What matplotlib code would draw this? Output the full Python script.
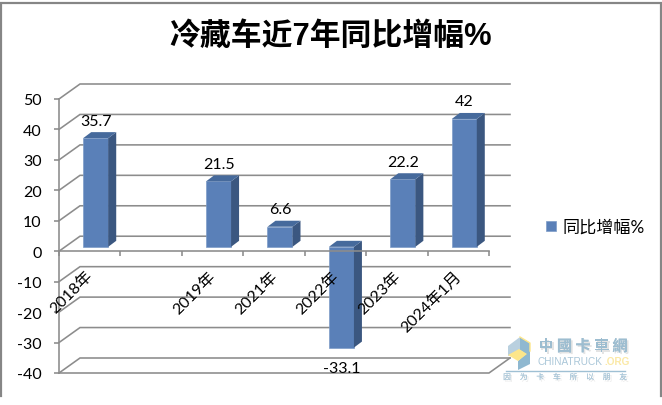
"""Cold-chain truck yearly growth, faux-3D column chart."""

from __future__ import annotations

import numpy as np
import matplotlib

matplotlib.use("Agg")
import matplotlib.pyplot as plt
import matplotlib.patheffects as pe
from matplotlib.patches import Polygon


CATEGORIES = ["2018年", "", "2019年", "2021年", "2022年", "2023年", "2024年1月"]
VALUES = [35.7, np.nan, 21.5, 6.6, -33.1, 22.2, 42]
VALUE_LABELS = ["35.7", "", "21.5", "6.6", "-33.1", "22.2", "42"]
Y_TICKS = [-40, -30, -20, -10, 0, 10, 20, 30, 40, 50]
TITLE = "冷藏车近7年同比增幅%"
SERIES_NAME = "同比增幅%"

WIDTH, HEIGHT = 662, 406
AX_LEFT, AX_RIGHT, AX_TOP, AX_BOTTOM = 59, 489, 100, 374
GRID_COLOR = "#8c8c8c"
FRONT_COLOR = "#5a80b8"
SIDE_COLOR = "#3b5780"
TOP_COLOR = "#466a9c"
LATIN_CJK = ["Lato", "Noto Sans CJK SC"]


def px_to_pt(px: float) -> float:
    return px * 72 / 100


def soft_shadow(color: str) -> list:
    return [pe.withSimplePatchShadow(offset=(1.2, -1.2), shadow_rgbFace=color, alpha=1.0), pe.Normal()]


fig = plt.figure(figsize=(WIDTH / 100, HEIGHT / 100), dpi=100, facecolor="white")

# overlay in pixel coordinates, for the frame, title and watermark
bg = fig.add_axes([0, 0, 1, 1], zorder=0)
bg.set_xlim(0, WIDTH)
bg.set_ylim(HEIGHT, 0)
bg.axis("off")
bg.plot([1, 1, 661, 661], [397, 4, 4, 397], color="#868686", lw=px_to_pt(2.2), solid_joinstyle="miter")
bg.text(331, 37, TITLE, ha="center", va="center", fontsize=22.2, fontweight="bold",
        family=["Liberation Sans", "Noto Sans CJK SC"], color="black")

ax = fig.add_axes(
    [AX_LEFT / WIDTH, 1 - AX_BOTTOM / HEIGHT, (AX_RIGHT - AX_LEFT) / WIDTH, (AX_BOTTOM - AX_TOP) / HEIGHT],
    zorder=1,
)
ax.patch.set_alpha(0)
ax.set_xlim(0, len(CATEGORIES))
ax.set_ylim(min(Y_TICKS), max(Y_TICKS))

x_unit = (AX_RIGHT - AX_LEFT) / len(CATEGORIES)  # px per slot
y_unit = (AX_BOTTOM - AX_TOP) / (max(Y_TICKS) - min(Y_TICKS))  # px per value
wall_dx, wall_dy = 21 / x_unit, 15 / y_unit
bar_dx, bar_dy = 6 / x_unit, 4.4 / y_unit
side_dx, side_dy = 8 / x_unit, 6 / y_unit
bar_width = 25 / x_unit

# back wall gridlines and the diagonals of the left wall
for tick in Y_TICKS:
    ax.plot([0, wall_dx, len(CATEGORIES) + wall_dx], [tick, tick + wall_dy, tick + wall_dy],
            color=GRID_COLOR, lw=px_to_pt(1.6), clip_on=False, zorder=1, solid_joinstyle="miter")
ax.plot([0, len(CATEGORIES), len(CATEGORIES) + wall_dx], [-40, -40, -40 + wall_dy],
        color=GRID_COLOR, lw=px_to_pt(1.6), clip_on=False, zorder=1)

slots = np.arange(len(CATEGORIES)) + 0.5
centers = slots + bar_dx
base = bar_dy
bars = ax.bar(centers, VALUES, width=bar_width, bottom=base, color=FRONT_COLOR,
              edgecolor="#7d9cc8", linewidth=0.5, zorder=3, label=SERIES_NAME, clip_on=False)

for center, value in zip(centers, VALUES):
    if np.isnan(value):
        continue
    x0, x1 = center - bar_width / 2, center + bar_width / 2
    lo, hi = sorted([base, base + value])
    ax.add_patch(Polygon([(x1, lo), (x1 + side_dx, lo + side_dy), (x1 + side_dx, hi + side_dy), (x1, hi)],
                         closed=True, facecolor=SIDE_COLOR, edgecolor="none", zorder=3, clip_on=False))
    ax.add_patch(Polygon([(x0, hi), (x1, hi), (x1 + side_dx, hi + side_dy), (x0 + side_dx, hi + side_dy)],
                         closed=True, facecolor=TOP_COLOR, edgecolor="none", zorder=3, clip_on=False))

# value labels
for center, value, text in zip(centers, VALUES, VALUE_LABELS):
    if np.isnan(value):
        continue
    end = base + value
    offset = 17.5 if value > 0 else -20
    ax.annotate(text, xy=(center, end), xytext=(0, px_to_pt(offset)), textcoords="offset points",
                ha="center", va="center", fontsize=11.5, family=LATIN_CJK, color="black", zorder=6)

# axes
for name in ("top", "right"):
    ax.spines[name].set_visible(False)
ax.spines["left"].set_color(GRID_COLOR)
ax.spines["left"].set_linewidth(px_to_pt(1.6))
ax.spines["bottom"].set_position(("data", 0))
ax.spines["bottom"].set_color(GRID_COLOR)
ax.spines["bottom"].set_linewidth(px_to_pt(1.6))
ax.spines["bottom"].set_zorder(5)
ax.set_yticks(Y_TICKS)
ax.set_yticklabels([str(t) for t in Y_TICKS], family=LATIN_CJK, fontsize=11.5)
ax.set_xticks(np.arange(len(CATEGORIES) + 1))
ax.set_xticklabels([])
ax.tick_params(axis="y", direction="out", length=px_to_pt(5), width=px_to_pt(1.6), color=GRID_COLOR, pad=9)
ax.tick_params(axis="x", direction="out", length=px_to_pt(5), width=px_to_pt(1.6), color=GRID_COLOR)
for tick_line in ax.xaxis.get_ticklines():
    tick_line.set_zorder(5)

# rotated category labels
for slot, label in zip(slots, CATEGORIES):
    if not label:
        continue
    ax.annotate(label, xy=(slot, 0), xytext=(px_to_pt(1), px_to_pt(-22)), textcoords="offset points",
                ha="right", va="center", rotation=45, rotation_mode="anchor",
                fontsize=11.5, family=LATIN_CJK, color="black", zorder=6)

fig.legend(handles=[bars], labels=[SERIES_NAME], loc="center left",
           bbox_to_anchor=(546 / WIDTH, 1 - 228 / HEIGHT), frameon=False,
           prop={"family": LATIN_CJK, "size": 12.3}, handlelength=0.59, handleheight=0.59,
           handletextpad=0.38, borderaxespad=0, borderpad=0)

# watermark
top = fig.add_axes([0, 0, 1, 1], zorder=2)
top.set_xlim(0, WIDTH)
top.set_ylim(HEIGHT, 0)
top.axis("off")
top.patch.set_alpha(0)
top.add_patch(Polygon([(508, 347), (520, 338), (520, 352), (508, 357)], facecolor="#b9d0df", edgecolor="none"))
top.add_patch(Polygon([(520, 338), (530, 344), (530, 365), (518, 371), (518, 362), (526, 355), (520, 351)],
                      facecolor="#8fb8d0", edgecolor="none"))
top.add_patch(Polygon([(508, 356), (519, 350), (527, 355), (518, 362)], facecolor="#fde68a", edgecolor="none"))
top.plot([520, 530, 530], [338, 344, 352], color="#fde68a", lw=1.0)
top.plot([506, 625], [371.5, 371.5], color="#9fc0d4", lw=1.0)
for i, ch in enumerate("中國卡車網"):
    top.text(546 + i * 18.5, 347, ch, ha="center", va="center", fontsize=11, fontweight="bold",
             family="Noto Sans CJK TC", color="#9dbdd0", path_effects=soft_shadow("#e4e4e4"))
top.text(538, 362.5, "CHINATRUCK", ha="left", va="center", fontsize=7.2, family="Liberation Sans",
         color="#a9c6d8")
top.text(604, 362.5, ".ORG", ha="left", va="center", fontsize=7.2, fontweight="bold",
         family="Liberation Sans", color="#fbe9a6")
for i, ch in enumerate("因为卡车所以朋友"):
    top.text(507 + i * 16.6, 378.5, ch, ha="center", va="center", fontsize=5.6,
             family="Noto Sans CJK SC", color="#a9c6d8", path_effects=soft_shadow("#e6e6e6"))

fig.savefig("out.png", dpi=100)
